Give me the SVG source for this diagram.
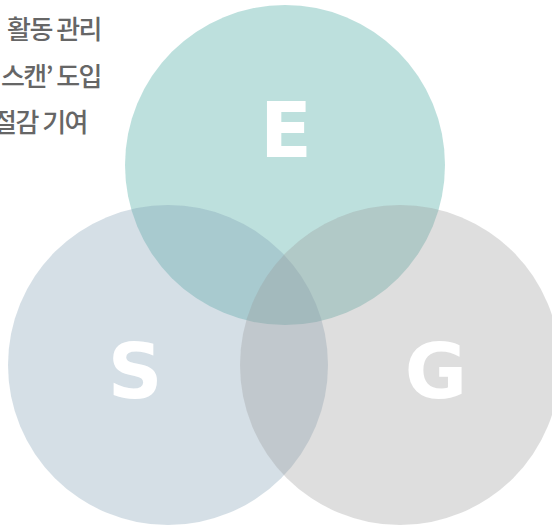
<svg xmlns="http://www.w3.org/2000/svg" width="552" height="527" viewBox="0 0 552 527">
<style>
.c{fill-opacity:0.32}
.lt{font-family:"DejaVu Sans","Liberation Sans",sans-serif;font-weight:bold;font-size:76px;fill:#ffffff;text-anchor:middle}
.kr{font-family:"Noto Sans CJK KR","Noto Sans",sans-serif;font-weight:500;font-size:26px;fill:#666666;text-anchor:end;letter-spacing:-1.5px}
</style>
<rect width="552" height="527" fill="#ffffff"/>
<g id="text">
<text class="kr" x="101" y="39">활동 관리</text>
<text class="kr" y="86"><tspan x="52">스캔’</tspan><tspan x="101">도입</tspan></text>
<text class="kr" x="87" y="132">절감 기여</text>
</g>
<g id="node-E">
<circle class="c" cx="285" cy="165" r="160" fill="#319e95"/>
</g>
<g id="node-S">
<circle class="c" cx="168" cy="365" r="160" fill="#7c9bb1"/>
</g>
<g id="node-G">
<circle class="c" cx="400" cy="365" r="160" fill="#989898"/>
</g>
<g id="labels">
<text class="lt" x="286" y="157">E</text>
<text class="lt" x="135" y="398">S</text>
<text class="lt" x="436" y="398">G</text>
</g>
</svg>
